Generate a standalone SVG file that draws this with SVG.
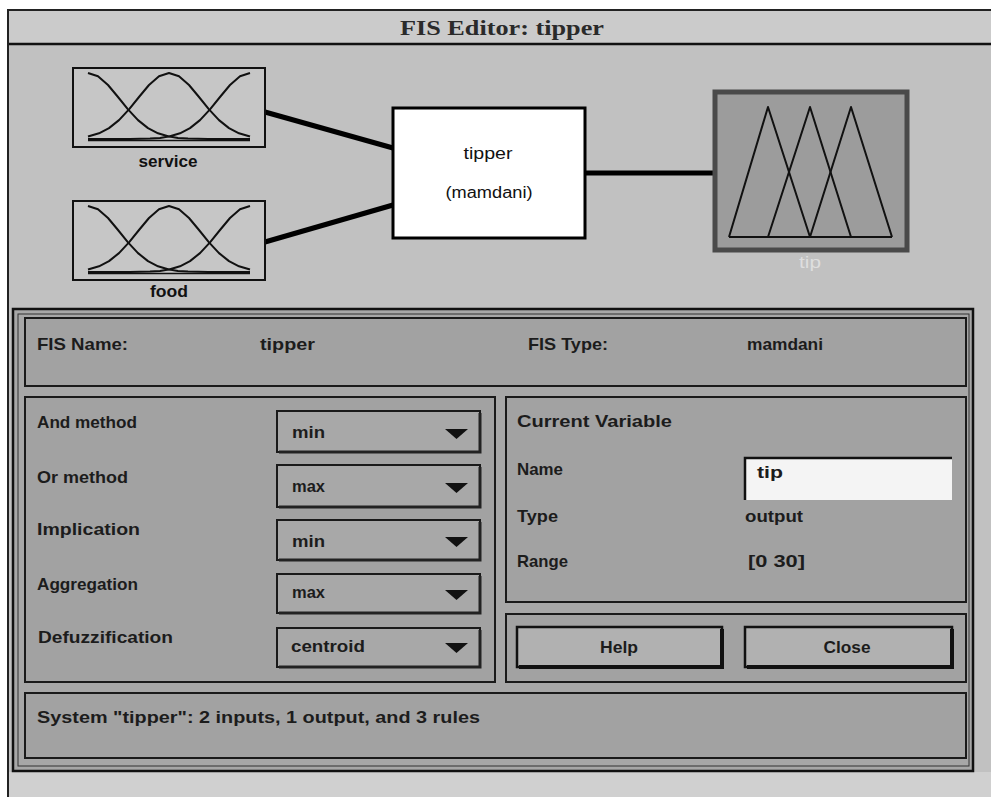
<svg xmlns="http://www.w3.org/2000/svg" width="991" height="797" viewBox="0 0 991 797">
<defs>
<style>
.lbl{font-family:"Liberation Sans",Arial,sans-serif;font-size:17px;font-weight:bold;fill:#1c1c1c}
.dia{font-family:"Liberation Sans",Arial,sans-serif;font-size:16px;fill:#111}
.panel{fill:#a2a2a2;stroke:#1a1a1a;stroke-width:2}
.dd{fill:#a8a8a8;stroke:#1a1a1a;stroke-width:2}
.ddsh{fill:none;stroke:#222;stroke-width:3}
.btn{fill:#b1b1b1;stroke:#111;stroke-width:2.5}
.mf{fill:none;stroke:#111;stroke-width:2;stroke-linejoin:round}
.conn{stroke:#000;stroke-width:5;fill:none}
</style>
<g id="gauss">
<rect x="73" y="68" width="192" height="79" fill="#c6c6c6" stroke="#111" stroke-width="2"/>
<polyline class="mf" points="88,73 98,76.2 108,85 118,97 128,109.4 138,120.1 148,128.1 158,133.3 168,136.3 178,137.9 188,138.6 208,139 250,139"/>
<polyline class="mf" points="88,136.5 99,133.3 109,128.1 119,120.1 129,109.4 139,97 149,85 159,76.2 169,73 179,76.2 189,85 199,97 209,109.4 219,120.1 229,128.1 239,133.3 250,136.5"/>
<polyline class="mf" points="250,73 240,76.2 230,85 220,97 210,109.4 200,120.1 190,128.1 180,133.3 170,136.3 160,137.9 150,138.6 130,139 88,139"/>
<line x1="88" y1="140.5" x2="250" y2="140.5" stroke="#111" stroke-width="1.5"/>
</g>
<polygon id="arrow" points="0,0 23,0 11.5,10" fill="#111"/>
</defs>

<!-- page and window -->
<rect x="0" y="0" width="991" height="797" fill="#ffffff"/>
<rect x="8" y="10" width="983" height="787" fill="#c1c1c1"/>
<rect x="8" y="10" width="983" height="34" fill="#cbcbcb"/>
<rect x="8" y="772" width="983" height="25" fill="#d0d0d0"/>
<line x1="7" y1="10" x2="991" y2="10" stroke="#222" stroke-width="2"/>
<line x1="7" y1="44" x2="991" y2="44" stroke="#111" stroke-width="2.5"/>
<line x1="8" y1="10" x2="8" y2="797" stroke="#222" stroke-width="2"/>
<text x="502" y="35" text-anchor="middle" font-family="'Liberation Serif','Times New Roman',serif" font-size="22" font-weight="bold" fill="#2a2a2a" textLength="204" lengthAdjust="spacingAndGlyphs">FIS Editor: tipper</text>

<!-- connectors -->
<g id="connectors">
<line class="conn" x1="265" y1="112" x2="393" y2="148"/>
<line class="conn" x1="265" y1="242" x2="393" y2="205"/>
<line class="conn" x1="585" y1="173" x2="714" y2="173"/>
</g>

<g id="node-service">
<use href="#gauss"/>
<text class="dia" x="168" y="167" text-anchor="middle" font-weight="bold" textLength="59" lengthAdjust="spacingAndGlyphs">service</text>
</g>
<g id="node-food">
<use href="#gauss" transform="translate(0,133)"/>
<text class="dia" x="169" y="297" text-anchor="middle" font-weight="bold" textLength="38" lengthAdjust="spacingAndGlyphs">food</text>
</g>
<g id="node-tipper">
<rect x="393" y="108" width="192" height="130" fill="#ffffff" stroke="#000" stroke-width="3"/>
<text class="dia" x="488" y="159" text-anchor="middle" textLength="49" lengthAdjust="spacingAndGlyphs">tipper</text>
<text class="dia" x="489" y="198" text-anchor="middle" textLength="87" lengthAdjust="spacingAndGlyphs">(mamdani)</text>
</g>
<g id="node-tip">
<rect x="715" y="92" width="192" height="158" fill="#9c9c9c" stroke="#4a4a4a" stroke-width="5"/>
<polyline class="mf" points="729,237 768,107 810,237"/>
<polyline class="mf" points="768,237 810,107 851,237"/>
<polyline class="mf" points="810,237 851,107 892,237"/>
<line x1="729" y1="237" x2="892" y2="237" stroke="#111" stroke-width="2"/>
<text class="dia" x="810" y="268" text-anchor="middle" style="fill:#dedede" textLength="22" lengthAdjust="spacingAndGlyphs">tip</text>
</g>

<!-- lower panel -->
<g id="lower-frame">
<rect x="13" y="309" width="960" height="462" fill="#a7a7a7" stroke="#111" stroke-width="2.5"/>
<rect x="18" y="314" width="951" height="452" fill="none" stroke="#333" stroke-width="1"/>
</g>

<g id="fis-info">
<rect class="panel" x="25" y="318" width="941" height="68"/>
<text class="lbl" x="37" y="350" textLength="91" lengthAdjust="spacingAndGlyphs">FIS Name:</text>
<text class="lbl" x="260" y="350" textLength="55" lengthAdjust="spacingAndGlyphs">tipper</text>
<text class="lbl" x="528" y="350" textLength="80" lengthAdjust="spacingAndGlyphs">FIS Type:</text>
<text class="lbl" x="747" y="350" textLength="76" lengthAdjust="spacingAndGlyphs">mamdani</text>
</g>

<g id="methods">
<rect class="panel" x="25" y="397" width="470" height="285"/>
<text class="lbl" x="37" y="428" textLength="100" lengthAdjust="spacingAndGlyphs">And method</text>
<text class="lbl" x="37" y="483" textLength="91" lengthAdjust="spacingAndGlyphs">Or method</text>
<text class="lbl" x="37" y="535" textLength="103" lengthAdjust="spacingAndGlyphs">Implication</text>
<text class="lbl" x="37" y="590" textLength="101" lengthAdjust="spacingAndGlyphs">Aggregation</text>
<text class="lbl" x="38" y="643" textLength="135" lengthAdjust="spacingAndGlyphs">Defuzzification</text>
</g>

<g id="dd-and">
<rect class="dd" x="277" y="411" width="203" height="41"/>
<polyline class="ddsh" points="279,452 480,452 480,413"/>
<text class="lbl" x="292" y="438" textLength="33" lengthAdjust="spacingAndGlyphs">min</text>
<use href="#arrow" x="445" y="429"/>
</g>
<g id="dd-or">
<rect class="dd" x="277" y="465" width="203" height="42"/>
<polyline class="ddsh" points="279,507 480,507 480,467"/>
<text class="lbl" x="292" y="492" textLength="33" lengthAdjust="spacingAndGlyphs">max</text>
<use href="#arrow" x="445" y="483"/>
</g>
<g id="dd-imp">
<rect class="dd" x="277" y="520" width="203" height="40"/>
<polyline class="ddsh" points="279,560 480,560 480,522"/>
<text class="lbl" x="292" y="547" textLength="33" lengthAdjust="spacingAndGlyphs">min</text>
<use href="#arrow" x="445" y="537"/>
</g>
<g id="dd-agg">
<rect class="dd" x="277" y="574" width="203" height="39"/>
<polyline class="ddsh" points="279,613 480,613 480,576"/>
<text class="lbl" x="292" y="598" textLength="33" lengthAdjust="spacingAndGlyphs">max</text>
<use href="#arrow" x="445" y="590"/>
</g>
<g id="dd-defuzz">
<rect class="dd" x="277" y="628" width="203" height="39"/>
<polyline class="ddsh" points="279,667 480,667 480,630"/>
<text class="lbl" x="291" y="652" textLength="74" lengthAdjust="spacingAndGlyphs">centroid</text>
<use href="#arrow" x="445" y="643"/>
</g>

<g id="current-variable">
<rect class="panel" x="506" y="397" width="460" height="205"/>
<text class="lbl" x="517" y="427" textLength="155" lengthAdjust="spacingAndGlyphs">Current Variable</text>
<text class="lbl" x="517" y="475" textLength="46" lengthAdjust="spacingAndGlyphs">Name</text>
<rect x="745" y="458" width="207" height="42" fill="#f4f4f4"/>
<polyline points="745,500 745,458 952,458" fill="none" stroke="#111" stroke-width="2.5"/>
<text class="lbl" x="757" y="478" textLength="26" lengthAdjust="spacingAndGlyphs">tip</text>
<text class="lbl" x="517" y="522" textLength="41" lengthAdjust="spacingAndGlyphs">Type</text>
<text class="lbl" x="745" y="522" textLength="58" lengthAdjust="spacingAndGlyphs">output</text>
<text class="lbl" x="517" y="567" textLength="51" lengthAdjust="spacingAndGlyphs">Range</text>
<text class="lbl" x="748" y="567" textLength="57" lengthAdjust="spacingAndGlyphs">[0 30]</text>
</g>

<g id="buttons">
<rect class="panel" x="506" y="614" width="460" height="68"/>
<g id="btn-help">
<rect class="btn" x="517" y="627" width="205" height="40"/>
<polyline points="519,667 722,667 722,629" fill="none" stroke="#111" stroke-width="4"/>
<text class="lbl" x="619" y="653" text-anchor="middle" textLength="38" lengthAdjust="spacingAndGlyphs">Help</text>
</g>
<g id="btn-close">
<rect class="btn" x="745" y="627" width="207" height="40"/>
<polyline points="747,667 952,667 952,629" fill="none" stroke="#111" stroke-width="4"/>
<text class="lbl" x="847" y="653" text-anchor="middle" textLength="47" lengthAdjust="spacingAndGlyphs">Close</text>
</g>
</g>

<g id="status">
<rect class="panel" x="25" y="693" width="941" height="65"/>
<text class="lbl" x="37" y="723" textLength="443" lengthAdjust="spacingAndGlyphs">System "tipper": 2 inputs, 1 output, and 3 rules</text>
</g>
</svg>
